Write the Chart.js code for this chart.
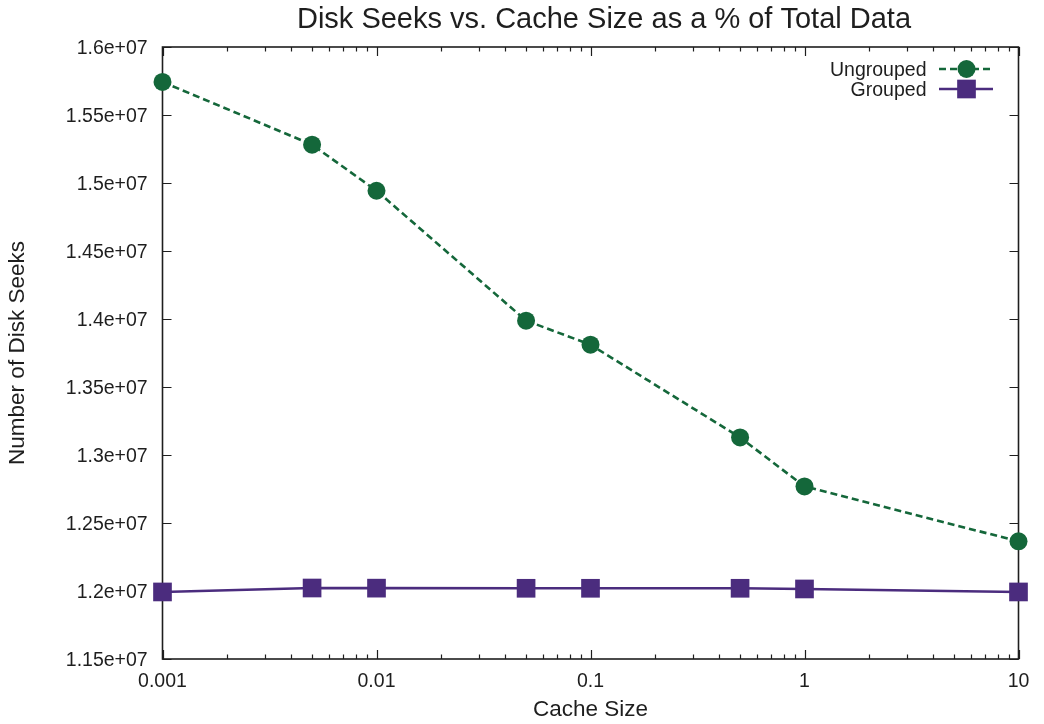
<!DOCTYPE html>
<html>
<head>
<meta charset="utf-8">
<script src="https://cdn.jsdelivr.net/npm/chart.js@4.4.1/dist/chart.umd.min.js"></script>
<style>
  html, body { margin: 0; padding: 0; background: #ffffff; }
  #wrap { width: 1044px; height: 724px; }
</style>
</head>
<body>
<div id="wrap"><canvas id="c" width="1044" height="724"></canvas></div>
<script>
// Cache size (fraction of total data) and the measured disk seeks
const cacheSizes = [0.001, 0.005, 0.01, 0.05, 0.1, 0.5, 1, 10];
const ungroupedSeeks = [15743000, 15282000, 14943000, 13988000, 13811000, 13129000, 12769000, 12365000];
const groupedSeeks = [11993000, 12022000, 12021000, 12020000, 12020000, 12020000, 12015000, 11993000];

// Axis ticks
const xTickValues = [0.001, 0.01, 0.1, 1, 10];
const yTickValues = [11500000, 12000000, 12500000, 13000000, 13500000, 14000000, 14500000, 15000000, 15500000, 16000000];

const chartTitle = 'Disk Seeks vs. Cache Size as a % of Total Data';
const FONT = "'Liberation Sans', Arial, Helvetica, sans-serif";
const INK = '#1e1e1e';
const GREEN = '#14673a';
const PURPLE = '#4b2c7e';

// gnuplot-style exponent labels: 1.55e+07
function expLabel(v) {
  const m = (v / 1e7).toFixed(2).replace(/0+$/, '').replace(/\.$/, '');
  return m + 'e+07';
}

// Border box with inward major/minor ticks on all four sides
const framePlugin = {
  id: 'frame',
  beforeDatasetsDraw(chart) {
    const { ctx, chartArea: a, scales } = chart;
    ctx.save();
    ctx.strokeStyle = INK;
    ctx.lineWidth = 1.6;
    ctx.strokeRect(a.left, a.top, a.right - a.left, a.bottom - a.top);
    ctx.lineWidth = 1.2;
    ctx.beginPath();
    const major = 9, minor = 4.5;
    // x: decades plus 2..9 minor ticks
    for (let d = -3; d <= 1; d++) {
      for (let k = 1; k <= 9; k++) {
        const v = k * Math.pow(10, d);
        if (v < scales.x.min * 0.999 || v > scales.x.max * 1.001) continue;
        const px = Math.round(scales.x.getPixelForValue(v)) + 0.5;
        const len = k === 1 ? major : minor;
        ctx.moveTo(px, a.bottom); ctx.lineTo(px, a.bottom - len);
        ctx.moveTo(px, a.top); ctx.lineTo(px, a.top + len);
      }
    }
    // y: major ticks on left and right
    yTickValues.forEach(v => {
      const py = Math.round(scales.y.getPixelForValue(v)) + 0.5;
      ctx.moveTo(a.left, py); ctx.lineTo(a.left + major, py);
      ctx.moveTo(a.right, py); ctx.lineTo(a.right - major, py);
    });
    ctx.stroke();
    ctx.restore();
  }
};

// Title and key (text left, line sample + marker right)
const annotatePlugin = {
  id: 'annotate',
  afterDraw(chart) {
    const { ctx, chartArea: a } = chart;
    ctx.save();
    ctx.fillStyle = INK;
    ctx.font = '29px ' + FONT;
    ctx.textAlign = 'center';
    ctx.textBaseline = 'alphabetic';
    ctx.fillText(chartTitle, 604, 28);

    ctx.font = '19.5px ' + FONT;
    ctx.textAlign = 'right';
    chart.data.datasets.forEach((ds, i) => {
      const cy = a.top + 22 + i * 20;
      ctx.fillStyle = INK;
      ctx.fillText(ds.label, a.right - 92, cy + 6.5);
      ctx.save();
      ctx.strokeStyle = ds.borderColor;
      ctx.lineWidth = ds.borderWidth;
      ctx.setLineDash(ds.borderDash || []);
      ctx.beginPath();
      ctx.moveTo(a.right - 79.5, cy);
      ctx.lineTo(a.right - 25.5, cy);
      ctx.stroke();
      ctx.restore();
      ctx.fillStyle = ds.pointBackgroundColor;
      const mx = a.right - 52;
      if (ds.pointStyle === 'circle') {
        ctx.beginPath();
        ctx.arc(mx, cy, ds.pointRadius, 0, Math.PI * 2);
        ctx.fill();
      } else {
        const h = ds.pointRadius * Math.SQRT1_2;
        ctx.fillRect(mx - h, cy - h, 2 * h, 2 * h);
      }
    });
    ctx.restore();
  }
};

new Chart(document.getElementById('c'), {
  type: 'line',
  data: {
    datasets: [
      {
        label: 'Ungrouped',
        data: cacheSizes.map((x, i) => ({ x: x, y: ungroupedSeeks[i] })),
        borderColor: GREEN,
        backgroundColor: GREEN,
        pointBackgroundColor: GREEN,
        borderWidth: 2.6,
        borderDash: [7, 4],
        pointStyle: 'circle',
        pointRadius: 9,
        pointBorderWidth: 0,
        pointHoverRadius: 9,
        tension: 0,
        clip: false
      },
      {
        label: 'Grouped',
        data: cacheSizes.map((x, i) => ({ x: x, y: groupedSeeks[i] })),
        borderColor: PURPLE,
        backgroundColor: PURPLE,
        pointBackgroundColor: PURPLE,
        borderWidth: 2.6,
        pointStyle: 'rect',
        pointRadius: 13.2,
        pointBorderWidth: 0,
        pointHoverRadius: 13.2,
        tension: 0,
        clip: false
      }
    ]
  },
  options: {
    responsive: false,
    animation: false,
    devicePixelRatio: 1,
    events: [],
    layout: { padding: { left: 0, top: 47, right: 25.5, bottom: 0 } },
    plugins: {
      legend: { display: false },
      title: { display: false },
      tooltip: { enabled: false }
    },
    scales: {
      x: {
        type: 'logarithmic',
        min: 0.001,
        max: 10,
        grid: { display: false, drawTicks: false },
        border: { display: false },
        afterBuildTicks: s => { s.ticks = xTickValues.map(v => ({ value: v })); },
        afterFit: s => { s.height = 65; },
        ticks: {
          autoSkip: false,
          maxRotation: 0,
          padding: 10.5,
          color: INK,
          font: { family: FONT, size: 19.5 },
          callback: v => String(v)
        },
        title: {
          display: true,
          text: 'Cache Size',
          color: INK,
          font: { family: FONT, size: 22.5 },
          padding: { top: 0, bottom: 0.5 }
        }
      },
      y: {
        min: 11500000,
        max: 16000000,
        grid: { display: false, drawTicks: false },
        border: { display: false },
        afterBuildTicks: s => { s.ticks = yTickValues.map(v => ({ value: v })); },
        afterFit: s => { s.width = 162.5; },
        ticks: {
          autoSkip: false,
          padding: 14.8,
          labelOffset: 1.5,
          color: INK,
          font: { family: FONT, size: 19.5 },
          callback: v => expLabel(v)
        },
        title: {
          display: true,
          text: 'Number of Disk Seeks',
          color: INK,
          font: { family: FONT, size: 22.5 },
          padding: { top: 4, bottom: 0 }
        }
      }
    }
  },
  plugins: [framePlugin, annotatePlugin]
});
</script>
</body>
</html>
